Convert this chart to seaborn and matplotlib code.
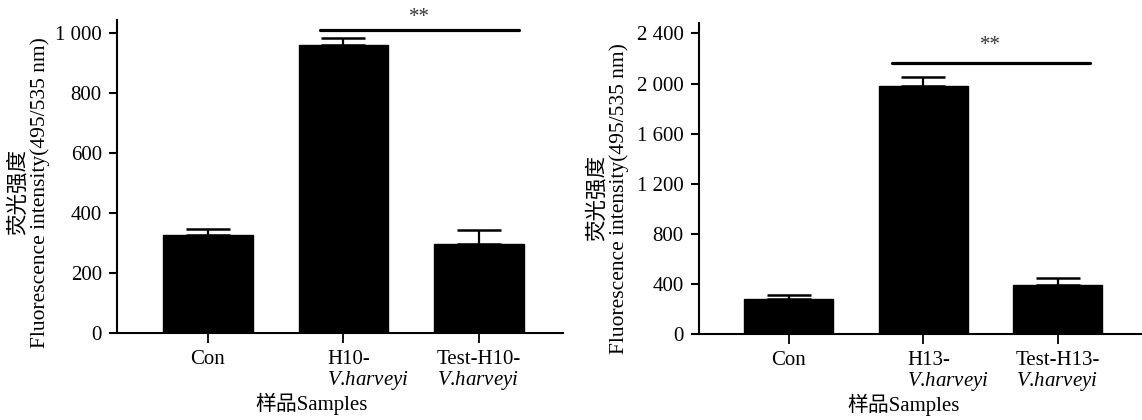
import numpy as np
import pandas as pd
import matplotlib
matplotlib.use('Agg')
import matplotlib.pyplot as plt
import matplotlib.transforms as mtrans
from matplotlib.ticker import FuncFormatter, MultipleLocator
import seaborn as sns

# values (mean, upper error)
left_groups = ['Con', 'H10-\n$\\mathit{V}$.$\\mathit{harveyi}$', 'Test-H10-\n$\\mathit{V}$.$\\mathit{harveyi}$']
left_means = [329, 962, 297]
left_errs = [18, 22, 48]
right_groups = ['Con', 'H13-\n$\\mathit{V}$.$\\mathit{harveyi}$', 'Test-H13-\n$\\mathit{V}$.$\\mathit{harveyi}$']
right_means = [279, 1980, 393]
right_errs = [34, 69, 54]
left_sig = 1013
right_sig = 2161

sns.set_theme(style='ticks')
plt.rcParams['font.family'] = ['Liberation Serif', 'Noto Sans CJK SC']
plt.rcParams['mathtext.fontset'] = 'custom'
plt.rcParams['mathtext.it'] = 'Liberation Serif:italic'
plt.rcParams['mathtext.rm'] = 'Liberation Serif'
plt.rcParams['text.color'] = 'black'
plt.rcParams['axes.labelcolor'] = 'black'

ylab = '荧光强度\nFluorescence intensity(495/535 nm)'
xlab = '样品Samples'


def thousands(v, pos):
    s = '{:,.0f}'.format(v)
    return s.replace(',', ' ')


def panel(ax, groups, means, errs, sig, sig_span, star_y, ymax, step, ylab_xy, xlab_xy):
    df = pd.DataFrame({'group': groups, 'value': means})
    sns.barplot(data=df, x='group', y='value', color='black', edgecolor='black',
                width=0.66, errorbar=None, ax=ax, saturation=1)
    x = np.arange(len(groups))
    ax.errorbar(x, means, yerr=[np.zeros(len(errs)), errs], fmt='none', ecolor='black',
                elinewidth=1.6, capsize=15.5, capthick=1.8, zorder=1)
    ax.plot(sig_span, [sig, sig], color='black', lw=2.3, solid_capstyle='round', clip_on=False)
    ax.text(np.mean(sig_span), star_y, '**', ha='center', va='center', fontsize=15,
            color='#333333', clip_on=False)
    ax.set_xlim(-0.67, 2.62)
    ax.set_ylim(0, ymax)
    ax.yaxis.set_major_locator(MultipleLocator(step))
    ax.yaxis.set_major_formatter(FuncFormatter(thousands))
    sns.despine(ax=ax)
    for s in ['left', 'bottom']:
        ax.spines[s].set_linewidth(1.5)
        ax.spines[s].set_color('black')
    ax.tick_params(axis='y', length=6, width=1.5, pad=5, labelsize=15, colors='black')
    ax.tick_params(axis='x', length=7, width=1.3, pad=5, labelsize=15, colors='black')
    for lbl in ax.get_xticklabels():
        lbl.set_multialignment('left')
        lbl.set_linespacing(1.0)
    # middle label sits a little right of its tick
    mid = ax.get_xticklabels()[1]
    mid.set_transform(mid.get_transform() + mtrans.ScaledTranslation(0.25, 0, ax.figure.dpi_scale_trans))
    ax.set_ylabel(ylab, fontsize=15.5, va='center', linespacing=1.1)
    ax.yaxis.set_label_coords(*ylab_xy)
    ax.set_xlabel(xlab, fontsize=15, va='center')
    ax.xaxis.set_label_coords(*xlab_xy)


fig = plt.figure(figsize=(11.42, 4.2), dpi=100)
ax1 = fig.add_axes([0.1025, 0.206, 0.3904, 0.7464])
ax2 = fig.add_axes([0.6118, 0.204, 0.3875, 0.742])

panel(ax1, left_groups, left_means, left_errs, left_sig, [0.827, 2.293], 1054, 1045, 200,
      (-0.197, 0.451), (0.437, -0.225))
panel(ax2, right_groups, right_means, right_errs, right_sig, [0.768, 2.238], 2307, 2485, 400,
      (-0.205, 0.437), (0.462, -0.228))

fig.savefig('out.png', dpi=100, facecolor='white')
